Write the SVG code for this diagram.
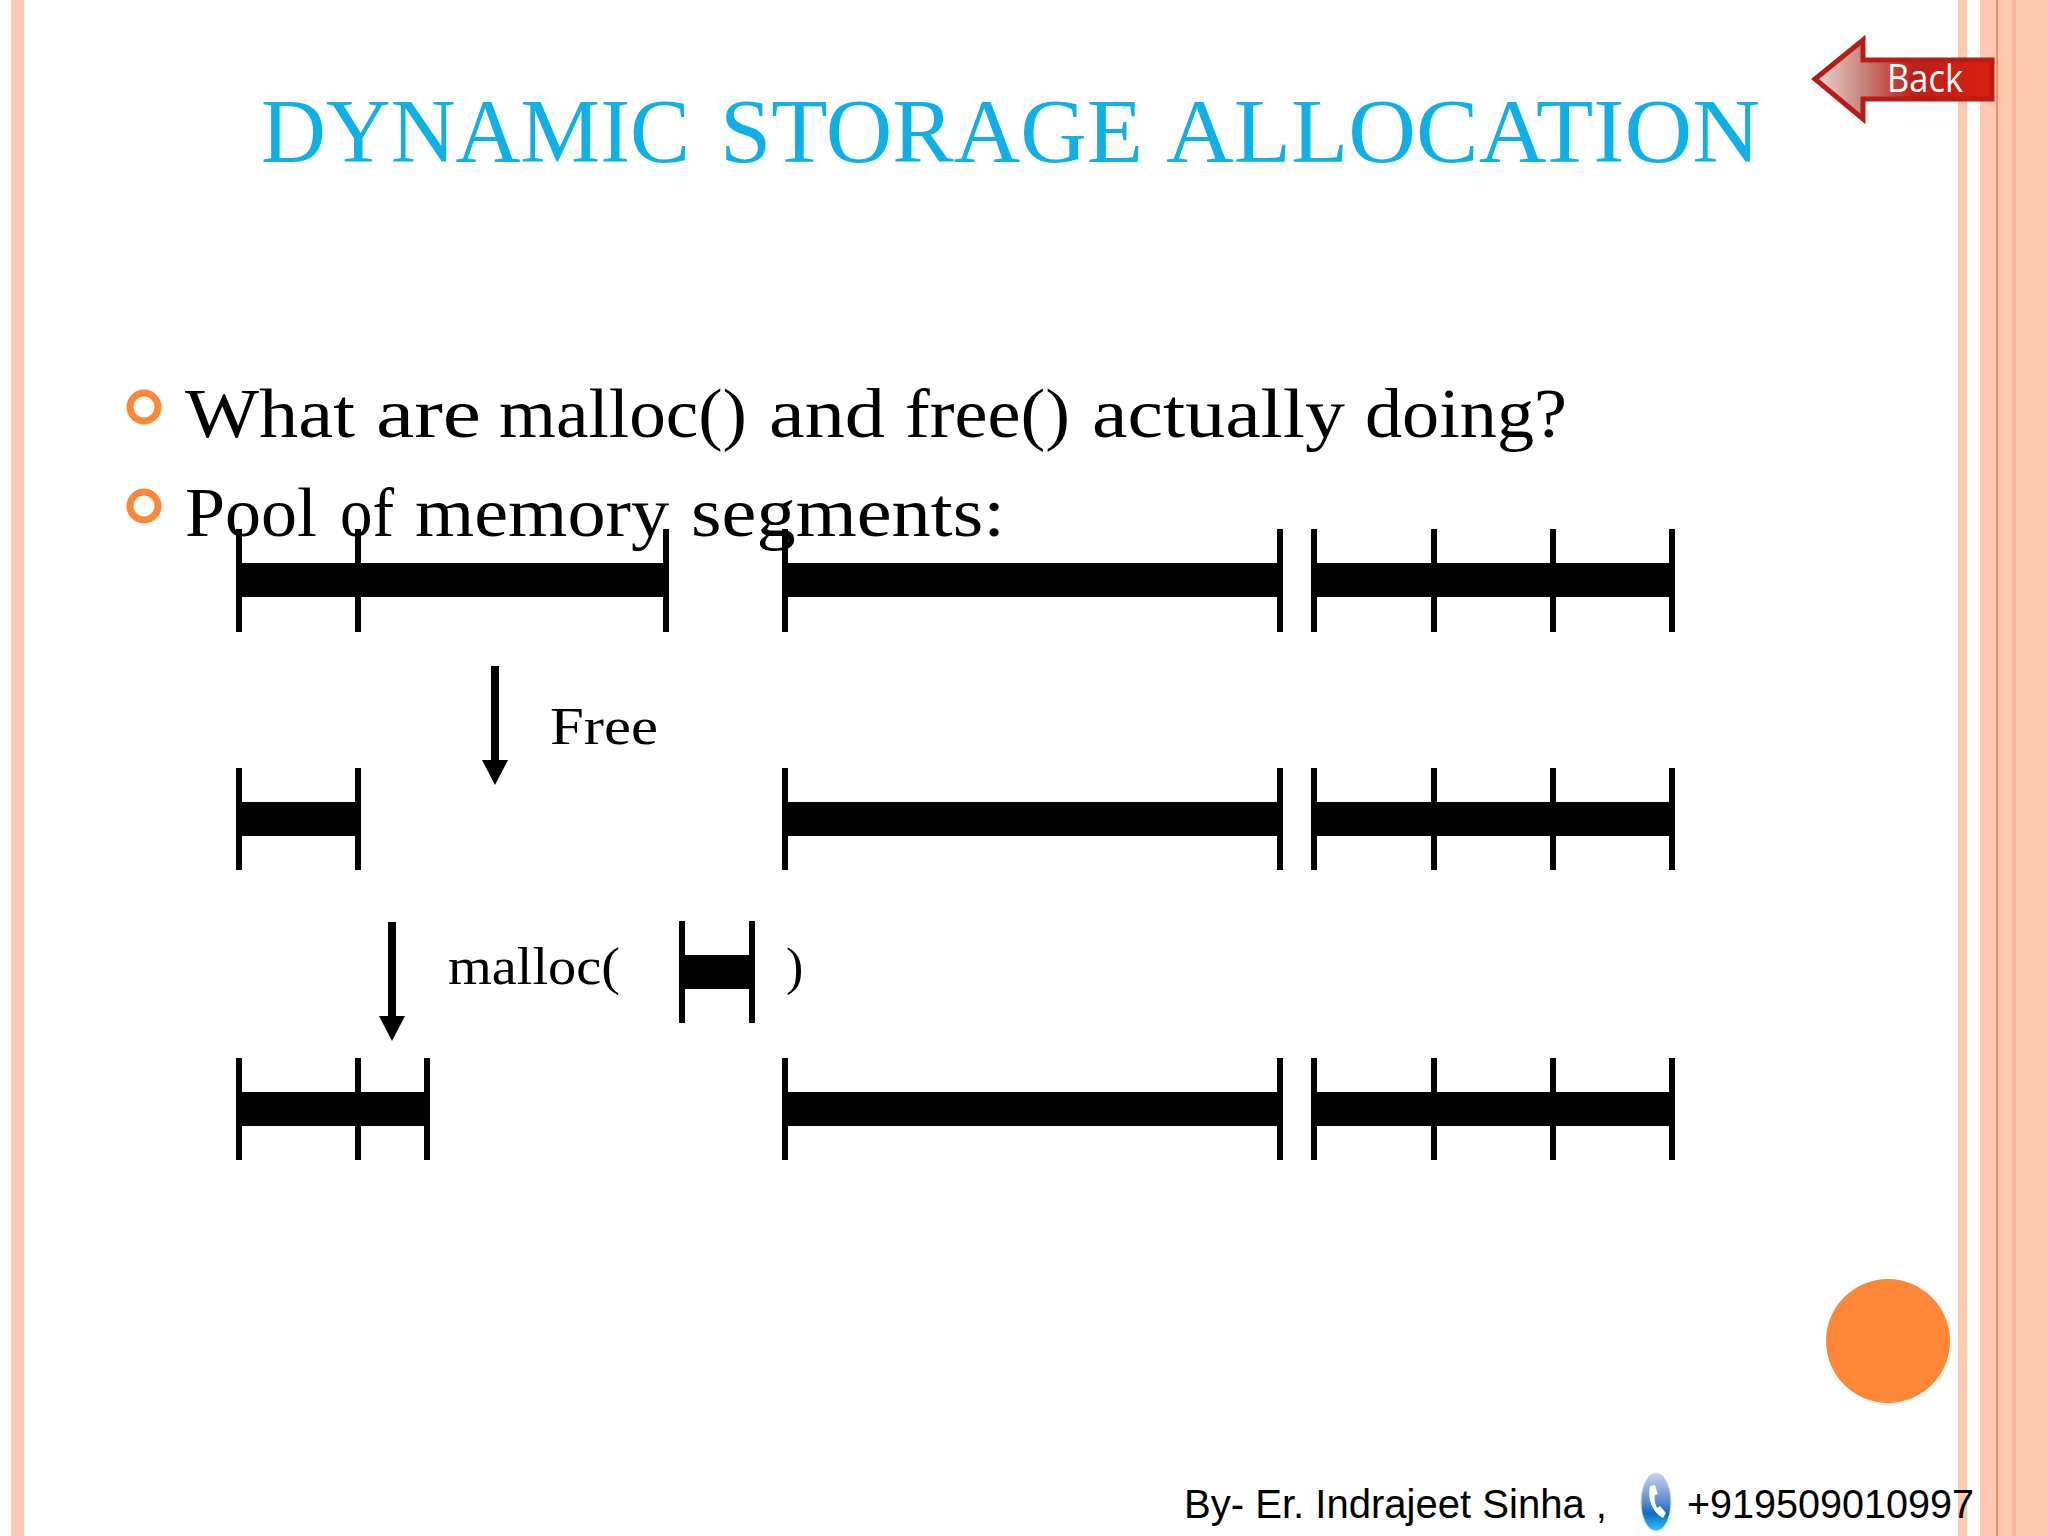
<svg xmlns="http://www.w3.org/2000/svg" width="2048" height="1536" viewBox="0 0 2048 1536">
<style>
.t{stroke:#000;stroke-width:6;fill:none}
.b{fill:#000}
.s{font-family:"Liberation Serif",serif;fill:#000}
.w{font-family:"Liberation Sans",sans-serif;fill:#000;font-size:40px}
.st{fill:#fdc9b3}
.bu{fill:none;stroke:#fd8637;stroke-width:7}
.a{stroke:#000;stroke-width:8;fill:none}
.h{fill:#000}
</style>
<defs>
<linearGradient id="g" x1="0" x2="1" y1="0" y2="0"><stop offset="0" stop-color="#ead9d3"/><stop offset="0.3" stop-color="#c47a70"/><stop offset="0.55" stop-color="#bd1f1a"/><stop offset="1" stop-color="#d9200f"/></linearGradient>
<linearGradient id="p" x1="0" x2="0" y1="0" y2="1"><stop offset="0" stop-color="#c8d4ee"/><stop offset="0.5" stop-color="#5a8ad0"/><stop offset="0.7" stop-color="#0c6cc8"/><stop offset="1" stop-color="#30c8f4"/></linearGradient>
</defs>
<rect width="2048" height="1536" fill="#fff"/>
<g id="frame">
<rect class="st" x="11" y="0" width="13" height="1536"/>
<rect class="st" x="1958" y="0" width="9" height="1536"/>
<rect class="st" x="1980" y="0" width="68" height="1536"/>
<rect x="1996" y="0" width="2" height="1536" fill="#f98d50"/>
<rect x="2012" y="0" width="4" height="1536" fill="#fbb89c"/>
</g>
<g id="back">
<path d="M1815 79 L1863 40 V60 L1992 60 V99 L1863 99 V119 Z" fill="url(#g)" stroke="#b81c14" stroke-width="5"/>
<text x="1887" y="92" font-family="Open Sans, sans-serif" font-size="38" fill="#fff" textLength="76" lengthAdjust="spacingAndGlyphs">Back</text>
</g>
<text id="title" y="162" font-family="Liberation Serif, serif" font-size="90" fill="#0fb0e8"><tspan x="261" textLength="429" lengthAdjust="spacingAndGlyphs">DYNAMIC</tspan> <tspan x="720" textLength="423" lengthAdjust="spacingAndGlyphs">STORAGE</tspan> <tspan x="1166" textLength="594" lengthAdjust="spacingAndGlyphs">ALLOCATION</tspan></text>
<g id="bullets">
<circle class="bu" cx="144" cy="407" r="14"/>
<circle class="bu" cx="144" cy="506" r="14"/>
<text class="s" y="437" font-size="70"><tspan x="185" textLength="170" lengthAdjust="spacingAndGlyphs">What</tspan> <tspan x="376" textLength="105" lengthAdjust="spacingAndGlyphs">are</tspan> <tspan x="499" textLength="248" lengthAdjust="spacingAndGlyphs">malloc()</tspan> <tspan x="769" textLength="116" lengthAdjust="spacingAndGlyphs">and</tspan> <tspan x="905" textLength="165" lengthAdjust="spacingAndGlyphs">free()</tspan> <tspan x="1092" textLength="253" lengthAdjust="spacingAndGlyphs">actually</tspan> <tspan x="1365" textLength="202" lengthAdjust="spacingAndGlyphs">doing?</tspan></text>
<text class="s" y="536" font-size="70"><tspan x="185" textLength="132" lengthAdjust="spacingAndGlyphs">Pool</tspan> <tspan x="340" textLength="54" lengthAdjust="spacingAndGlyphs">of</tspan> <tspan x="415" textLength="254" lengthAdjust="spacingAndGlyphs">memory</tspan> <tspan x="691" textLength="314" lengthAdjust="spacingAndGlyphs">segments:</tspan></text>
</g>
<g id="row1">
<rect class="b" x="239" y="563" width="427" height="34"/>
<rect class="b" x="785" y="563" width="495" height="34"/>
<rect class="b" x="1314" y="563" width="358" height="34"/>
<path class="t" d="M239 529V632M358 529V632M666 529V632M785 529V632M1280 529V632M1314 529V632M1434 529V632M1553 529V632M1672 529V632"/>
</g>
<g id="row2">
<rect class="b" x="239" y="802" width="119" height="34"/>
<rect class="b" x="785" y="802" width="495" height="34"/>
<rect class="b" x="1314" y="802" width="358" height="34"/>
<path class="t" d="M239 768V870M358 768V870M785 768V870M1280 768V870M1314 768V870M1434 768V870M1553 768V870M1672 768V870"/>
</g>
<g id="row3">
<rect class="b" x="239" y="1092" width="188" height="34"/>
<rect class="b" x="785" y="1092" width="495" height="34"/>
<rect class="b" x="1314" y="1092" width="358" height="34"/>
<path class="t" d="M239 1058V1160M358 1058V1160M427 1058V1160M785 1058V1160M1280 1058V1160M1314 1058V1160M1434 1058V1160M1553 1058V1160M1672 1058V1160"/>
</g>
<g id="malloc-block">
<rect class="b" x="682" y="955" width="70" height="34"/>
<path class="t" d="M682 921V1023M752 921V1023"/>
</g>
<g id="connectors">
<path class="a" d="M495 666V762"/>
<path class="h" d="M482 760H508L495 785Z"/>
<path class="a" d="M392 922V1018"/>
<path class="h" d="M379 1016H405L392 1041Z"/>
</g>
<g id="labels">
<text class="s" x="550" y="744" font-size="52" textLength="108" lengthAdjust="spacingAndGlyphs">Free</text>
<text class="s" x="448" y="984" font-size="52" textLength="172" lengthAdjust="spacingAndGlyphs">malloc(</text>
<text class="s" x="786" y="984" font-size="52">)</text>
</g>
<circle id="dot" cx="1888" cy="1341" r="62" fill="#fd8637"/>
<g id="footer">
<text class="w" x="1184" y="1518" textLength="423" lengthAdjust="spacingAndGlyphs">By- Er. Indrajeet Sinha ,</text>
<g id="phone"><ellipse cx="1656" cy="1502" rx="15" ry="29" fill="url(#p)" stroke="#d5dbe8" stroke-width="1"/>
<path d="M1650 1486 C1647 1498 1652 1512 1663 1518 L1666 1513 L1660 1506 L1657 1508 C1655 1503 1654 1499 1655 1495 L1658 1494 L1655 1485 Z" fill="#fff"/></g>
<text class="w" x="1687" y="1518" textLength="287" lengthAdjust="spacingAndGlyphs">+919509010997</text>
</g>
</svg>
